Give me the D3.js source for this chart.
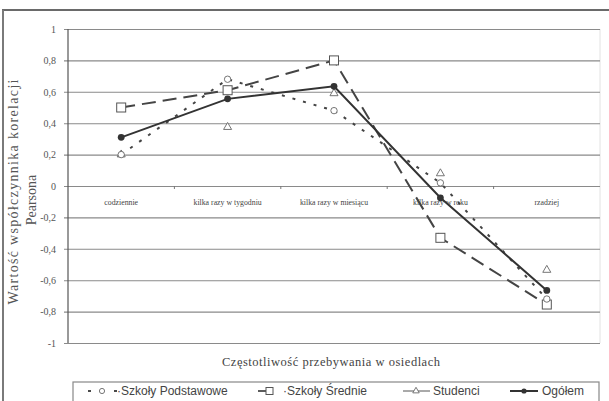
<!DOCTYPE html>
<html>
<head>
<meta charset="utf-8">
<script src="https://cdn.jsdelivr.net/npm/d3@7"></script>
<style>
	body { margin: 0; background: #fff; }
	svg { display: block; }
	.tick text { font-family: 'Liberation Serif', serif; }
</style>
</head>
<body>
<div id="chart-area"></div>
<script>
const margin = {
	top: 29,
	left: 68,
	right: 9,
	bottom: 57
}

const width = 609 - margin.left - margin.right
const height = 401 - margin.top - margin.bottom

// categories and series
const categories = ['codziennie', 'kilka razy w tygodniu', 'kilka razy w miesiącu', 'kilka razy w roku', 'rzadziej']
const podstawowe = [0.20, 0.68, 0.48, 0.02, -0.72]
const srednie = [0.50, 0.61, 0.80, -0.33, -0.755]
const studenci = [0.20, 0.375, 0.59, 0.08, -0.535]
const ogolem = [0.31, 0.555, 0.635, -0.075, -0.665]
const yTicks = [1, 0.8, 0.6, 0.4, 0.2, 0, -0.2, -0.4, -0.6, -0.8, -1]
const legendLabels = ['Szkoły Podstawowe', 'Szkoły Średnie', 'Studenci', 'Ogółem']

const ink = '#333'

let svg = d3.select('#chart-area')
	.append('svg')
	.attr('width', 609)
	.attr('height', 401)

// scanned frame: top and left edge
svg.append('line')
	.attr('x1', 2).attr('x2', 609).attr('y1', 10).attr('y2', 10)
	.attr('stroke', '#6a6a6a').attr('stroke-width', 2)
svg.append('line')
	.attr('x1', 3).attr('x2', 3).attr('y1', 10).attr('y2', 401)
	.attr('stroke', '#7a7a7a').attr('stroke-width', 2)

let g = svg.append('g')
	.attr('transform', 'translate(' + margin.left + ',' + margin.top + ')')

// scales
let xScale = d3.scaleBand()
	.domain(categories)
	.range([0, width])
	.paddingInner(0)

let yScale = d3.scaleLinear()
	.domain([-1, 1])
	.range([height - 1, 0])

let xPos = i => xScale(categories[i]) + xScale.bandwidth() / 2

// faint right edge of plot
g.append('line')
	.attr('x1', width).attr('x2', width)
	.attr('y1', 0).attr('y2', height - 1)
	.attr('stroke', '#e2e2e2')

// y axis with gridlines
let yAxis = d3.axisLeft(yScale)
	.tickValues(yTicks)
	.tickSize(-width)
	.tickPadding(12)
	.tickFormat(d => d3.format('.1~f')(d).replace('.', ',').replace('−', '-'))

let yg = g.append('g')
	.attr('class', 'y-axis')
	.call(yAxis)

yg.select('.domain').remove()
yg.selectAll('.tick line')
	.attr('x1', -4)
	.attr('stroke', '#8a8a8a')
	.attr('stroke-width', 1.1)
yg.selectAll('.tick text')
	.attr('fill', '#555')
	.attr('font-size', 10)

g.append('line')
	.attr('x1', 0).attr('x2', 0)
	.attr('y1', 0).attr('y2', height - 1)
	.attr('stroke', '#555')
	.attr('stroke-width', 1.2)

// category labels under the zero line
let xAxis = d3.axisBottom(xScale)
	.tickSize(0)
	.tickPadding(13)

let xg = g.append('g')
	.attr('class', 'x-axis')
	.attr('transform', 'translate(0,' + yScale(0) + ')')
	.call(xAxis)

xg.select('.domain').remove()
xg.selectAll('.tick text')
	.attr('fill', '#444')
	.attr('font-size', 7.8)

// small ticks between categories
g.selectAll('.cat-tick')
	.data(categories.slice(1))
	.enter()
	.append('line')
	.attr('x1', d => xScale(d))
	.attr('x2', d => xScale(d))
	.attr('y1', yScale(0))
	.attr('y2', yScale(0) + 3)
	.attr('stroke', '#777')

let line = d3.line()
	.x((d, i) => xPos(i))
	.y(d => yScale(d))

// series lines
g.append('path')
	.datum(srednie)
	.attr('d', line)
	.attr('fill', 'none')
	.attr('stroke', '#444')
	.attr('stroke-width', 2)
	.attr('stroke-dasharray', '14,7')

g.append('path')
	.datum(podstawowe)
	.attr('d', line)
	.attr('fill', 'none')
	.attr('stroke', '#444')
	.attr('stroke-width', 2)
	.attr('stroke-dasharray', '3,8')

g.append('path')
	.datum(ogolem)
	.attr('d', line)
	.attr('fill', 'none')
	.attr('stroke', ink)
	.attr('stroke-width', 2)

// markers
g.selectAll('.sq')
	.data(srednie)
	.enter()
	.append('rect')
	.attr('x', (d, i) => xPos(i) - 4.5)
	.attr('y', d => yScale(d) - 4.5)
	.attr('width', 9)
	.attr('height', 9)
	.attr('fill', '#fff')
	.attr('stroke', '#555')
	.attr('stroke-width', 1)

let tri = d3.symbol().type(d3.symbolTriangle).size(28)
g.selectAll('.tri')
	.data(studenci)
	.enter()
	.append('path')
	.attr('d', tri)
	.attr('transform', (d, i) => 'translate(' + xPos(i) + ',' + yScale(d) + ')')
	.attr('fill', '#fff')
	.attr('stroke', '#666')
	.attr('stroke-width', 0.9)

g.selectAll('.circ')
	.data(podstawowe)
	.enter()
	.append('circle')
	.attr('cx', (d, i) => xPos(i))
	.attr('cy', d => yScale(d))
	.attr('r', 3.2)
	.attr('fill', '#fff')
	.attr('stroke', '#666')
	.attr('stroke-width', 0.9)

g.selectAll('.dot')
	.data(ogolem)
	.enter()
	.append('circle')
	.attr('cx', (d, i) => xPos(i))
	.attr('cy', d => yScale(d))
	.attr('r', 3.4)
	.attr('fill', ink)

// axis titles
svg.append('text')
	.attr('transform', 'translate(18,192) rotate(-90)')
	.attr('text-anchor', 'middle')
	.attr('font-family', 'Liberation Serif, serif')
	.attr('font-size', 14)
	.attr('fill', '#555')
	.attr('textLength', 225)
	.text('Wartość współczynnika korelacji')

svg.append('text')
	.attr('transform', 'translate(36,200) rotate(-90)')
	.attr('text-anchor', 'middle')
	.attr('font-family', 'Liberation Serif, serif')
	.attr('font-size', 14)
	.attr('fill', '#555')
	.text('Pearsona')

svg.append('text')
	.attr('x', 331)
	.attr('y', 366)
	.attr('text-anchor', 'middle')
	.attr('font-family', 'Liberation Serif, serif')
	.attr('font-size', 12.5)
	.attr('fill', '#444')
	.attr('textLength', 218)
	.text('Częstotliwość przebywania w osiedlach')

// legend
let legend = svg.append('g')

legend.append('rect')
	.attr('x', 73)
	.attr('y', 382)
	.attr('width', 526)
	.attr('height', 30)
	.attr('fill', '#fff')
	.attr('stroke', '#888')
	.attr('stroke-width', 1.2)

const legendX = [88, 258, 403, 510]
const legendY = 391

// podstawowe key
legend.append('line')
	.attr('x1', legendX[0]).attr('x2', legendX[0] + 30)
	.attr('y1', legendY).attr('y2', legendY)
	.attr('stroke', '#4a4a4a').attr('stroke-width', 1.8)
	.attr('stroke-dasharray', '3,10')
legend.append('circle')
	.attr('cx', legendX[0] + 14).attr('cy', legendY).attr('r', 2.6)
	.attr('fill', '#fff').attr('stroke', '#777')

// srednie key
legend.append('line')
	.attr('x1', legendX[1]).attr('x2', legendX[1] + 24)
	.attr('y1', legendY).attr('y2', legendY)
	.attr('stroke', '#4a4a4a').attr('stroke-width', 1.8)
	.attr('stroke-dasharray', '10,14')
legend.append('rect')
	.attr('x', legendX[1] + 8).attr('y', legendY - 3.5)
	.attr('width', 7).attr('height', 7)
	.attr('fill', '#fff').attr('stroke', '#555')

// studenci key
legend.append('line')
	.attr('x1', legendX[2]).attr('x2', legendX[2] + 27)
	.attr('y1', legendY).attr('y2', legendY)
	.attr('stroke', '#555').attr('stroke-width', 1)
legend.append('path')
	.attr('d', d3.symbol().type(d3.symbolTriangle).size(18))
	.attr('transform', 'translate(' + (legendX[2] + 13) + ',' + legendY + ')')
	.attr('fill', '#fff').attr('stroke', '#777')

// ogolem key
legend.append('line')
	.attr('x1', legendX[3]).attr('x2', legendX[3] + 28)
	.attr('y1', legendY).attr('y2', legendY)
	.attr('stroke', ink).attr('stroke-width', 2)
legend.append('circle')
	.attr('cx', legendX[3] + 14).attr('cy', legendY).attr('r', 2.6)
	.attr('fill', ink)

const labelX = [117, 283, 433, 542]
legend.selectAll('.leg-text')
	.data(legendLabels)
	.enter()
	.append('text')
	.attr('x', (d, i) => labelX[i])
	.attr('y', legendY + 4)
	.attr('font-family', 'Liberation Sans, Arial, sans-serif')
	.attr('font-size', 12)
	.attr('fill', '#444')
	.text((d, i) => i < 2 ? '·' + d : d)
</script>
</body>
</html>
